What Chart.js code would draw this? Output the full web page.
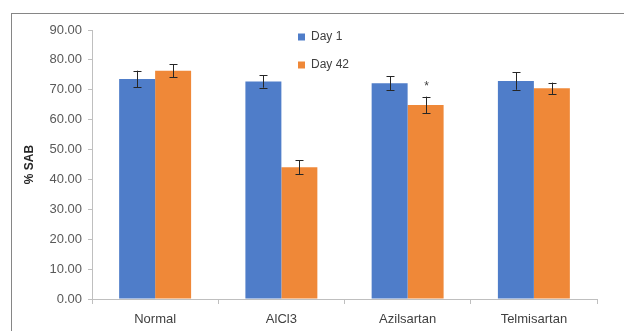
<!DOCTYPE html>
<html><head><meta charset="utf-8">
<script src="https://cdn.jsdelivr.net/npm/chart.js@4/dist/chart.umd.min.js"></script>
<style>html,body{margin:0;padding:0;background:#fff}#wrap{width:624px;height:331px;position:relative}</style>
</head><body><div id="wrap"><canvas id="c"></canvas></div>
<script>
const categories = ["Normal", "AlCl3", "Azilsartan", "Telmisartan"];
const day1Values = [73.6, 72.8, 72.2, 72.9];
const day1Errors = [2.8, 2.1, 2.3, 2.9];
const day42Values = [76.4, 44.1, 64.9, 70.5];
const day42Errors = [2.2, 2.3, 2.8, 1.9];
const day42Marks = ["", "", "*", ""];
const yTicks = [0, 10, 20, 30, 40, 50, 60, 70, 80, 90];

const FONT = "'Liberation Sans', Arial, sans-serif";

const framePlugin = {
  id: 'frame',
  beforeDraw(chart) {
    const ctx = chart.ctx;
    ctx.save();
    ctx.strokeStyle = '#868686';
    ctx.lineWidth = 1;
    ctx.strokeRect(11.5, 13.5, 700, 400);
    ctx.restore();
  }
};

const errorPlugin = {
  id: 'errbars',
  afterDatasetsDraw(chart) {
    const ctx = chart.ctx;
    const y = chart.scales.y;
    ctx.save();
    chart.data.datasets.forEach((ds, di) => {
      const meta = chart.getDatasetMeta(di);
      meta.data.forEach((bar, i) => {
        const v = ds.data[i], e = ds.errors[i];
        const yt = y.getPixelForValue(v + e), yb = y.getPixelForValue(v - e);
        const x = Math.round(bar.x) + 0.5;
        ctx.strokeStyle = '#262626';
        ctx.lineWidth = 1;
        ctx.beginPath();
        ctx.moveTo(x, yt); ctx.lineTo(x, yb);
        ctx.moveTo(x - 4, Math.round(yt) + 0.5); ctx.lineTo(x + 4, Math.round(yt) + 0.5);
        ctx.moveTo(x - 4, Math.round(yb) + 0.5); ctx.lineTo(x + 4, Math.round(yb) + 0.5);
        ctx.stroke();
        if (ds.marks && ds.marks[i]) {
          ctx.fillStyle = '#404040';
          ctx.font = '12px ' + FONT;
          ctx.textAlign = 'center';
          ctx.textBaseline = 'middle';
          ctx.fillText(ds.marks[i], x, yt - 10);
        }
      });
    });
    ctx.restore();
  }
};

const legendPos = {
  id: 'legendPos',
  afterLayout(chart) {
    const lg = chart.legend;
    if (!lg) return;
    const w = lg.width;
    lg.left = 282; lg.right = 282 + Math.max(w, 100);
    lg.top = 15; lg.bottom = 15 + 120;
    lg.width = lg.right - lg.left; lg.height = lg.bottom - lg.top;
  }
};

new Chart(document.getElementById('c'), {
  type: 'bar',
  data: {
    labels: categories,
    datasets: [
      { label: 'Day 1', data: day1Values, errors: day1Errors, backgroundColor: '#4f7dc9', borderWidth: 0 },
      { label: 'Day 42', data: day42Values, errors: day42Errors, marks: day42Marks, backgroundColor: '#ef8838', borderWidth: 0 }
    ]
  },
  options: {
    responsive: true,
    maintainAspectRatio: false,
    animation: false,
    devicePixelRatio: 1,
    layout: { padding: { left: 0, right: 27, top: 30, bottom: 0 } },
    datasets: { bar: { barPercentage: 1, categoryPercentage: 0.57 } },
    plugins: {
      legend: {
        position: 'chartArea',
        align: 'start',
        labels: { boxWidth: 7, boxHeight: 7, padding: 16, color: '#404040', font: { family: FONT, size: 12 } }
      },
      tooltip: { enabled: false }
    },
    scales: {
      x: {
        grid: { display: true, drawOnChartArea: false, drawTicks: true, tickLength: 5, color: '#bfbfbf', offset: true },
        border: { color: '#bfbfbf' },
        ticks: { color: '#404040', padding: 8, font: { family: FONT, size: 13 } },
        afterFit(s) { s.height = 32; }
      },
      y: {
        min: 0, max: 90,
        afterBuildTicks(s) { s.ticks = yTicks.map(v => ({ value: v })); },
        grid: { display: true, drawOnChartArea: false, drawTicks: true, tickLength: 4, color: '#bfbfbf' },
        border: { color: '#bfbfbf' },
        ticks: { color: '#595959', padding: 6, font: { family: FONT, size: 13 }, callback: v => Number(v).toFixed(2) },
        title: { display: true, text: '% SAB', color: '#262626', font: { family: FONT, size: 12, weight: 'bold' }, padding: { top: 22, bottom: 0 } },
        afterFit(s) { s.width = 92; }
      }
    }
  },
  plugins: [framePlugin, errorPlugin, legendPos]
});
</script></body></html>
